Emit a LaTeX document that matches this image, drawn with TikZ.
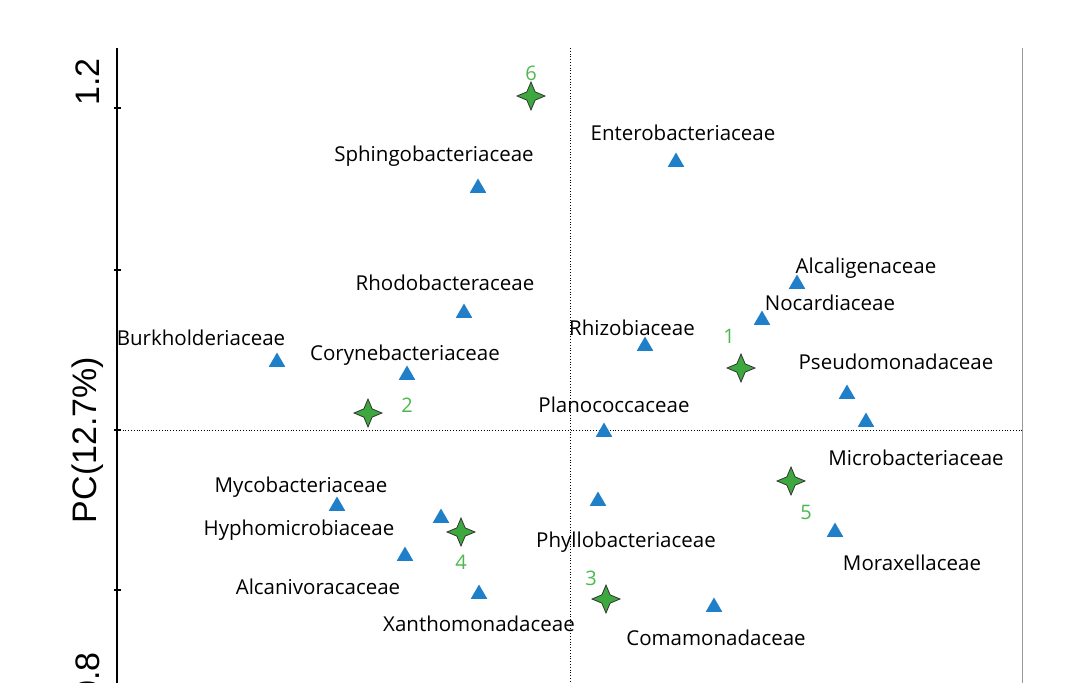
\documentclass[tikz,border=0pt]{standalone}
\usepackage{fontspec}
\setmainfont{Open Sans}
\newfontfamily\axisfont{Liberation Sans}
\usetikzlibrary{shapes.geometric}
\definecolor{triblue}{HTML}{1F7FC8}
\definecolor{stargreen}{HTML}{3DA83D}
\definecolor{numgreen}{HTML}{4DB84D}
\tikzset{
  tri/.style={regular polygon,regular polygon sides=3,fill=triblue,inner sep=0pt,minimum size=19pt},
  site/.style={star,star points=4,star point ratio=2.4,fill=stargreen,draw=black!80,line width=0.8pt,inner sep=0pt,minimum size=28pt},
  lab/.style={font=\fontsize{20.5}{24}\selectfont},
  num/.style={font=\fontsize{20}{22}\selectfont,text=numgreen},
  axlab/.style={rotate=90,font=\axisfont\fontsize{34}{36}\selectfont}
}
\begin{document}
\begin{tikzpicture}[x=1pt,y=-1pt]
    \useasboundingbox (0,0) rectangle (1080,683);

    \draw[black!40, thin] (1022,48) -- (1022,683);
    \draw[dotted, thick] (570,48) -- (570,683);
    \draw[dotted, thick] (117,430) -- (1022,430);
    \draw[line width=1.2pt] (117,48) -- (117,683);
    \foreach \y in {108,270,430,590} \draw[line width=1.2pt] (114,\y) -- (121,\y);

    \node[axlab] (ytop) at (88,82) {1.2};
    \node[axlab] (ybot) at (88,676) {0.8};
    \node[axlab] (ylab) at (88,440) {PC(12.7\%)};

    \foreach \n/\x/\y in {ent/676/162, sph/478/188, alc/797/284, noc/762/320, rho/464/313,
        rhi/645/346, bur/277/362, cor/407/375, pse/847/394, mic/866/422, pla/604/432,
        myc/337/506, hy1/441/518, hyp/405/556, phy/598/501, mor/835/532, alv/479/594, com/714/607}
        \node[tri] (t\n) at (\x,\y) {};

    \foreach \n/\x/\y/\t in {ent/683/133/Enterobacteriaceae, sph/434/156/Sphingobacteriaceae,
        alc/866/268/Alcaligenaceae, noc/830/303/Nocardiaceae, rho/445/283/Rhodobacteraceae,
        rhi/632/328/Rhizobiaceae, bur/201/338/Burkholderiaceae, cor/405/355/Corynebacteriaceae,
        pse/896/362/Pseudomonadaceae, pla/614/405/Planococcaceae, mic/916/458/Microbacteriaceae,
        myc/301/487/Mycobacteriaceae, hyp/299/530/Hyphomicrobiaceae, phy/626/542/Phyllobacteriaceae,
        mor/912/563/Moraxellaceae, alv/318/587/Alcanivoracaceae, xan/479/624/Xanthomonadaceae,
        com/716/638/Comamonadaceae}
        \node[lab] (l\n) at (\x,\y) {\t};

    \foreach \n/\x/\y/\a/\b in {6/531/96/531/73, 1/741/368/729/336, 2/368/413/407/405,
        4/461/532/461/562, 5/791/481/806/512, 3/606/599/591/578}
    {
        \node[site] (s\n) at (\x,\y) {};
        \node[num] (n\n) at (\a,\b) {\n};
    }

\end{tikzpicture}
\end{document}
